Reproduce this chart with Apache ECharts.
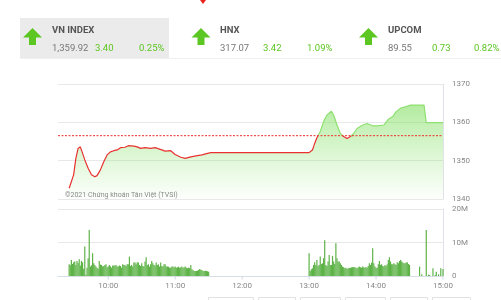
<!DOCTYPE html>
<html>
<head>
<meta charset="utf-8">
<script src="https://cdn.jsdelivr.net/npm/echarts@6/dist/echarts.min.js"></script>
<style>
html,body{margin:0;padding:0;background:#fff;}
#c{width:501px;height:300px;}
</style>
</head>
<body>
<div id="c"></div>
<script>
// ---- data ----
var refClose = 1356.52;
var sessionStart = 555, sessionEnd = 900;
var priceTimes = [565,569,571,573,575,576,579,582,585,588,590,593,596,599,602,605,608,611,615,618,623,626,629,633,638,642,648,651,656,660,665,669,674,680,684,689,692,780,783,785,787,790,793,796,800,802,805,808,811,814,817,820,823,828,832,837,841,847,851,855,858,862,867,871,883,885,900];
var priceValues = [1342.8,1346.3,1350.6,1353.2,1353.6,1352.8,1350.2,1348.0,1346.3,1345.8,1346.1,1347.6,1349.7,1351.5,1352.3,1352.6,1352.8,1353.4,1353.5,1353.9,1353.8,1353.6,1353.2,1353.4,1353.2,1353.4,1352.8,1352.5,1352.6,1351.6,1350.9,1350.6,1351.0,1351.3,1351.5,1351.9,1352.1,1352.1,1352.8,1354.5,1356.0,1357.6,1360.2,1361.9,1362.9,1361.9,1359.3,1357.1,1356.3,1355.8,1356.3,1357.1,1358.4,1359.3,1359.7,1359.1,1359.1,1359.3,1360.8,1361.5,1362.8,1363.7,1364.1,1364.5,1364.5,1359.92,1359.92];

var morningStart = 565;
var morningVol = [3.5,3.2,4.8,3.6,4.1,4.3,3.3,4.5,3.9,5.0,3.1,4.5,4.1,2.2,8.8,0.4,2.5,5.3,13.7,2.8,3.2,6.8,3.8,3.3,2.8,2.5,2.2,4.5,3.4,3.3,2.8,3.0,3.3,3.5,2.6,2.8,3.3,2.9,2.5,3.1,3.1,3.1,3.3,2.8,2.8,3.1,3.0,2.5,3.5,3.3,3.3,3.0,3.5,3.5,5.8,3.0,3.3,2.8,4.0,4.0,3.5,4.1,4.0,3.3,3.0,3.8,3.0,2.9,4.3,5.6,3.3,3.5,2.8,3.5,4.5,3.8,3.3,3.1,4.0,3.3,3.5,2.8,4.0,3.0,2.8,3.5,3.5,2.8,2.8,2.8,2.5,2.5,2.8,2.8,2.6,2.8,2.5,2.6,2.8,2.5,2.6,2.8,2.5,2.6,2.8,2.5,2.3,2.5,2.4,3.3,2.0,1.7,1.5,1.5,1.5,1.6,1.8,2.1,1.9,1.8,1.5,1.5,1.6,1.5,1.4,1.3];
var afternoonStart = 780;
var afternoonVol = [6.8,1.5,2.0,2.3,3.3,4.1,3.3,4.8,3.0,3.3,5.8,3.6,3.8,5.3,10.7,3.3,3.0,4.3,6.3,3.3,3.3,6.0,4.3,3.6,9.8,5.3,4.3,4.3,3.8,3.3,2.8,2.6,2.3,2.5,2.2,2.3,2.5,2.4,2.6,2.6,2.7,2.6,2.5,2.3,2.6,2.8,2.6,2.5,2.8,2.6,2.5,2.7,2.5,3.0,3.8,3.3,4.0,8.3,3.8,2.8,2.5,2.5,3.5,4.5,3.3,3.5,3.0,2.8,3.3,3.0,3.5,4.8,5.6,4.3,3.5,3.5,3.8,3.5,3.3,4.1,3.8,4.5,4.8,4.3,4.0,3.8,3.8,4.0,4.1,3.6,3.3];
var lateTimes = [879,881,885,887,888,891,893,894,896,898,900];
var lateVol = [2.8,0.5,13.7,0.4,0.3,2.3,0.3,1.3,0.5,2.3,2.1];

var hourTicks = [600,660,720,780,840,900];

var quotes = [
  {name:'VN INDEX', value:'1,359.92', change:'3.40', pct:'0.25%'},
  {name:'HNX', value:'317.07', change:'3.42', pct:'1.09%'},
  {name:'UPCOM', value:'89.55', change:'0.73', pct:'0.82%'}
];
var copyright = '©2021 Chứng khoán Tân Việt (TVSI)';

// ---- build ----
var priceData = priceTimes.map(function(t,i){return [t, priceValues[i]];});
var refData = [[sessionStart, refClose],[sessionEnd, refClose]];
var volData = [];
morningVol.forEach(function(v,i){volData.push([morningStart+i, v]);});
afternoonVol.forEach(function(v,i){volData.push([afternoonStart+i, v]);});
lateTimes.forEach(function(t,i){volData.push([t, lateVol[i]]);});
var tickData = hourTicks.map(function(t){return [t, 0];});

function fmtTime(m){var h=Math.floor(m/60), mm=m%60; return (h<10?'0':'')+h+':'+(mm<10?'0':'')+mm;}

var GREEN = '#5cc622';
var RED = '#e8312f';
var LINE_GREEN = '#8ee070';
var FONT = 'Roboto, sans-serif';
var graphics = [
  {type:'rect', shape:{x:20,y:18,width:149,height:40}, style:{fill:'#ebebeb'}, z:0},
  {type:'line', shape:{x1:20,y1:58.5,x2:501,y2:58.5}, style:{stroke:'#f0f0f0',lineWidth:1}},
  {type:'polygon', shape:{points:[[200,0],[206,0],[203,4]]}, style:{fill:'#e8231b'}},
  {type:'text', z:10, style:{x:65,y:195,text:copyright,fill:'#8a8a8a',font:'7px '+FONT,verticalAlign:'middle'}}
];
var tabX = [{ax:32.5, tx:52, cx:95, px:139},{ax:201, tx:220, cx:263, px:307},{ax:368.5, tx:388, cx:432, px:474}];
quotes.forEach(function(q,i){
  var p = tabX[i], c = p.ax;
  graphics.push({type:'polygon', shape:{points:[[c,28],[c+9.5,37.5],[c+3.5,37.5],[c+3.5,45],[c-3.5,45],[c-3.5,37.5],[c-9.5,37.5]]}, style:{fill:GREEN}});
  graphics.push({type:'text', style:{x:p.tx,y:31,text:q.name,fill:'#555',font:'bold 9.5px '+FONT,verticalAlign:'middle'}});
  graphics.push({type:'text', style:{x:p.tx,y:49,text:q.value,fill:'#777',font:'9.5px '+FONT,verticalAlign:'middle'}});
  graphics.push({type:'text', style:{x:p.cx,y:49,text:q.change,fill:GREEN,font:'9.5px '+FONT,verticalAlign:'middle'}});
  graphics.push({type:'text', style:{x:p.px,y:49,text:q.pct,fill:GREEN,font:'9.5px '+FONT,verticalAlign:'middle'}});
});
[[208,253],[258,295],[300,340],[345,385],[390,427],[432,470]].forEach(function(b){
  graphics.push({type:'rect', shape:{x:b[0]+0.5,y:297.5,width:b[1]-b[0],height:10}, style:{fill:'none',stroke:'#e2e2e2',lineWidth:1}});
});

var chart = echarts.init(document.getElementById('c'), null, {renderer:'canvas'});
chart.setOption({
  animation:false,
  backgroundColor:'#fff',
  textStyle:{fontFamily:FONT},
  graphic: graphics,
  grid:[
    {left:58, right:58, top:84, height:115},
    {left:58, right:58, top:209, height:67}
  ],
  xAxis:[
    {gridIndex:0, type:'value', min:sessionStart, max:sessionEnd, axisLine:{show:false}, axisTick:{show:false}, axisLabel:{show:false}, splitLine:{show:false}},
    {gridIndex:1, type:'value', min:sessionStart, max:sessionEnd, interval:15,
     axisLine:{show:true, lineStyle:{color:'#d8dee6'}},
     axisTick:{show:false},
     axisLabel:{formatter:function(v){return v%60===0?fmtTime(v):'';}, color:'#888', fontSize:8, margin:6},
     splitLine:{show:false}}
  ],
  yAxis:[
    {gridIndex:0, type:'value', position:'right', min:1340, max:1370, interval:10,
     axisLine:{show:true, lineStyle:{color:'#dfe3e8'}}, axisTick:{show:false},
     axisLabel:{color:'#888', fontSize:8, margin:9, formatter:function(v){return String(v);}},
     splitLine:{show:true, lineStyle:{color:'#e8e8e8'}}},
    {gridIndex:1, type:'value', position:'right', min:0, max:20, interval:10,
     axisLine:{show:true, lineStyle:{color:'#dfe3e8'}}, axisTick:{show:false},
     axisLabel:{color:'#888', fontSize:8, margin:9, formatter:function(v){return v===0?'0':v+'M';}},
     splitLine:{show:true, lineStyle:{color:'#e8e8e8'}}}
  ],
  series:[
    {type:'line', xAxisIndex:0, yAxisIndex:0, data:priceData, showSymbol:false, symbol:'none',
     lineStyle:{width:1.2, color:RED}, z:2,
     areaStyle:{origin:'start', color:{type:'linear',x:0,y:0,x2:0,y2:1,colorStops:[{offset:0,color:'rgba(120,220,85,0.8)'},{offset:1,color:'rgba(140,228,110,0.03)'}]}}},
    {type:'line', xAxisIndex:0, yAxisIndex:0, data:refData, showSymbol:false, symbol:'none', silent:true, z:3,
     lineStyle:{color:'#f22b2b', type:[2,1.5], width:1}},
    {type:'bar', xAxisIndex:1, yAxisIndex:1, data:volData, barWidth:1.2, itemStyle:{color:'#5eb348'}},
    {type:'scatter', xAxisIndex:1, yAxisIndex:1, data:tickData, symbol:'rect', symbolSize:[1,3], symbolOffset:[0,2], itemStyle:{color:'#c5ccd6'}, silent:true, clip:false, z:1}
  ]
});
// colour the price line green above the reference close, red below (split at the axis position of refClose)
var refY = chart.convertToPixel({yAxisIndex:0}, refClose);
var H = 300, f = refY / H;
chart.setOption({series:[{
  lineStyle:{color:{type:'linear', x:0, y:0, x2:0, y2:H, global:true,
    colorStops:[{offset:0,color:LINE_GREEN},{offset:f,color:LINE_GREEN},{offset:f,color:RED},{offset:1,color:RED}]}}
}]});
</script>
</body>
</html>
